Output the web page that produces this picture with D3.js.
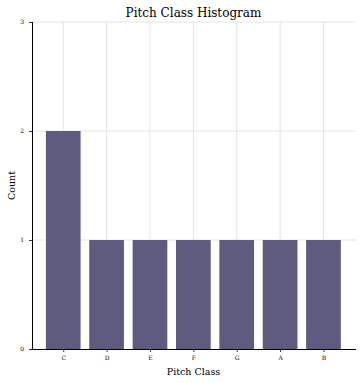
<!DOCTYPE html>
<html>
<head>
<meta charset="utf-8">
<script src="https://cdn.jsdelivr.net/npm/d3@7"></script>
<style>
  body { margin: 0; background: #fff; }
  text { font-family: "DejaVu Serif", serif; }
</style>
</head>
<body>
<div id="chart"></div>
<script>
// Pitch class histogram data
const pitchClasses = ['C', 'D', 'E', 'F', 'G', 'A', 'B'];
const counts = [2, 1, 1, 1, 1, 1, 1];
const yTicks = [0, 1, 2, 3];

const width = 362;
const height = 383;
const margin = { top: 22, right: 6, bottom: 34, left: 32 };

const svg = d3.select('#chart')
  .append('svg')
  .attr('width', width)
  .attr('height', height);

// index-based x scale, matplotlib style limits
const x = d3.scaleLinear()
  .domain([-0.72, pitchClasses.length - 0.25])
  .range([margin.left, width - margin.right]);

const y = d3.scaleLinear()
  .domain([0, 3])
  .range([height - margin.bottom, margin.top]);

const barWidth = x(0.8) - x(0);

// grid
svg.append('g')
  .selectAll('line')
  .data(pitchClasses)
  .join('line')
  .attr('x1', (d, i) => x(i))
  .attr('x2', (d, i) => x(i))
  .attr('y1', y(0))
  .attr('y2', y(3))
  .attr('stroke', '#dedede')
  .attr('stroke-width', 0.8);

svg.append('g')
  .selectAll('line')
  .data(yTicks.slice(1))
  .join('line')
  .attr('x1', margin.left)
  .attr('x2', width - margin.right)
  .attr('y1', d => y(d))
  .attr('y2', d => y(d))
  .attr('stroke', '#dedede')
  .attr('stroke-width', 0.8);

// bars
svg.append('g')
  .selectAll('rect')
  .data(counts)
  .join('rect')
  .attr('x', (d, i) => x(i) - barWidth / 2)
  .attr('y', d => y(d))
  .attr('width', barWidth)
  .attr('height', d => y(0) - y(d))
  .attr('fill', '#5f5b7f');

// axes
const xAxis = d3.axisBottom(x)
  .tickValues(d3.range(pitchClasses.length))
  .tickFormat(i => pitchClasses[i])
  .tickSize(3)
  .tickPadding(4);

const yAxis = d3.axisLeft(y)
  .tickValues(yTicks)
  .tickFormat(d3.format('d'))
  .tickSize(3)
  .tickPadding(5);

const gx = svg.append('g')
  .attr('transform', `translate(0,${y(0)})`)
  .call(xAxis);

const gy = svg.append('g')
  .attr('transform', `translate(${margin.left},0)`)
  .call(yAxis);

[gx, gy].forEach(g => {
  g.select('.domain').attr('stroke', '#000').attr('stroke-width', 1);
  g.selectAll('.tick line').attr('stroke', '#000').attr('stroke-width', 0.8);
  g.selectAll('.tick text')
    .attr('font-family', '"DejaVu Serif", serif')
    .attr('font-size', 6)
    .attr('fill', '#000');
});
// keep the domain path straight (no outer ticks overshoot)
gx.select('.domain').attr('d', `M${margin.left},0.5H${width - margin.right}`);
gy.select('.domain').attr('d', `M0.5,${y(0)}V${y(3)}`);

// labels
const midX = (margin.left + width - margin.right) / 2 - 0.5;

svg.append('text')
  .attr('x', midX)
  .attr('y', 17)
  .attr('text-anchor', 'middle')
  .attr('font-size', 12)
  .text('Pitch Class Histogram');

svg.append('text')
  .attr('x', midX)
  .attr('y', 375)
  .attr('text-anchor', 'middle')
  .attr('font-size', 9.5)
  .text('Pitch Class');

svg.append('text')
  .attr('transform', `translate(15,${(y(0) + y(3)) / 2}) rotate(-90)`)
  .attr('text-anchor', 'middle')
  .attr('font-size', 9.5)
  .text('Count');
</script>
</body>
</html>
